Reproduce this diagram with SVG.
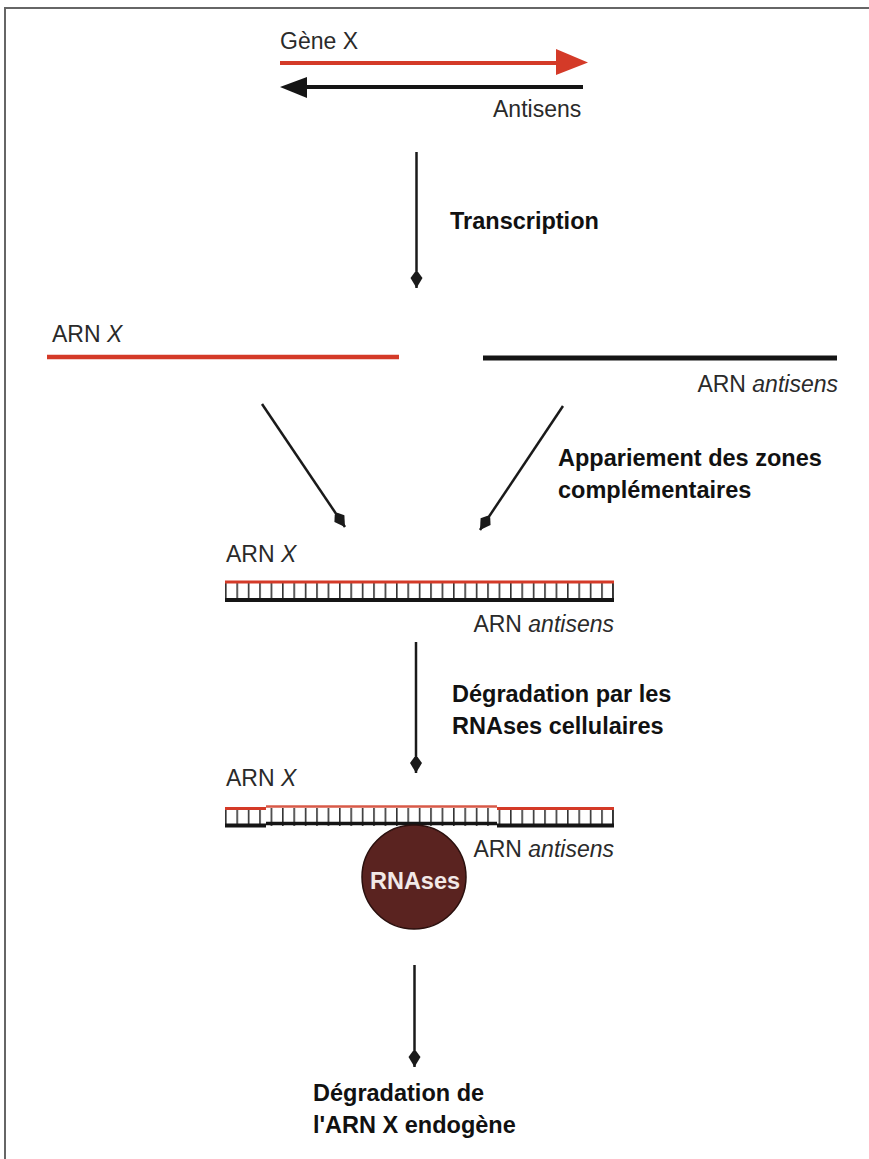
<svg xmlns="http://www.w3.org/2000/svg" width="869" height="1159" viewBox="0 0 869 1159">
<defs>
<style>
.t{font-family:"Liberation Sans",Arial,sans-serif;font-size:23px;fill:#2a2a2a}
.b{font-family:"Liberation Sans",Arial,sans-serif;font-size:23.5px;font-weight:bold;fill:#111}
.i{font-style:italic}
.arr{stroke:#1a1a1a;stroke-width:2.5;fill:none;marker-end:url(#spear)}
.red{stroke:#d43a28}
.blk{stroke:#151515}
.rung{stroke:#333;stroke-width:1.6}
</style>
<marker id="spear" markerUnits="userSpaceOnUse" markerWidth="20" markerHeight="14" refX="0" refY="0" viewBox="-18 -7 20 14" orient="auto" overflow="visible">
<path d="M0,0 L-10,-6 L-16,-1.6 L-16,1.6 L-10,6 Z" fill="#1a1a1a"/>
</marker>
<pattern id="rungs" x="225" y="0" width="11.4" height="20" patternUnits="userSpaceOnUse">
<line x1="0.8" y1="0" x2="0.8" y2="20" class="rung"/>
</pattern>
</defs>
<rect width="869" height="1159" fill="#fff"/>
<g id="frame">
<line x1="4" y1="8" x2="869" y2="8" stroke="#666" stroke-width="2"/>
<line x1="5" y1="7" x2="5" y2="1159" stroke="#666" stroke-width="2"/>
</g>

<g id="gene">
<text class="t" x="280" y="49">Gène X</text>
<line x1="280" y1="63" x2="560" y2="63" class="red" stroke-width="4"/>
<polygon points="556,49 588,62.5 556,75" fill="#d43a28"/>
<line x1="303" y1="87" x2="583" y2="87" class="blk" stroke-width="4"/>
<polygon points="280,87 307,77 307,98" fill="#151515"/>
<text class="t" x="493" y="117">Antisens</text>
</g>

<g id="arn-separate">
<text class="t" x="52" y="342">ARN <tspan class="i">X</tspan></text>
<line x1="47" y1="357" x2="399" y2="357" class="red" stroke-width="4.5"/>
<line x1="483" y1="358" x2="837" y2="358" class="blk" stroke-width="5"/>
<text class="t" x="838" y="392" text-anchor="end">ARN <tspan class="i">antisens</tspan></text>
</g>

<g id="duplex">
<text class="t" x="226" y="562">ARN <tspan class="i">X</tspan></text>
<rect x="225" y="582" width="389" height="18" fill="url(#rungs)"/>
<line x1="612.8" y1="582" x2="612.8" y2="600" class="rung"/>
<line x1="225" y1="582" x2="614" y2="582" class="red" stroke-width="3"/>
<line x1="225" y1="600" x2="614" y2="600" class="blk" stroke-width="4"/>
<text class="t" x="614" y="632" text-anchor="end">ARN <tspan class="i">antisens</tspan></text>
</g>

<g id="duplex-rnases">
<text class="t" x="226" y="786">ARN <tspan class="i">X</tspan></text>
<rect x="225" y="808" width="389" height="18" fill="url(#rungs)"/>
<line x1="612.8" y1="808" x2="612.8" y2="826" class="rung"/>
<line x1="225" y1="808.5" x2="266" y2="808.5" class="red" stroke-width="3"/>
<line x1="266" y1="806.5" x2="497" y2="806.5" stroke="#d85a48" stroke-width="2.5"/>
<line x1="497" y1="808.5" x2="614" y2="808.5" class="red" stroke-width="3"/>
<line x1="225" y1="825.5" x2="266" y2="825.5" class="blk" stroke-width="4"/>
<line x1="266" y1="823.5" x2="497" y2="823.5" class="blk" stroke-width="3.5"/>
<line x1="497" y1="825.5" x2="614" y2="825.5" class="blk" stroke-width="4"/>
<text class="t" x="614" y="857" text-anchor="end">ARN <tspan class="i">antisens</tspan></text>
</g>

<g id="rnases">
<circle cx="414" cy="877" r="52" fill="#5a2320" stroke="#2a0f0d" stroke-width="1.5"/>
<text class="b" x="415" y="889" text-anchor="middle" style="fill:#f2e9e7">RNAses</text>
</g>

<g id="connectors">
<line x1="416.5" y1="152" x2="416.5" y2="288" class="arr"/>
<line x1="262" y1="404" x2="345" y2="527" class="arr"/>
<line x1="563" y1="406" x2="480" y2="530" class="arr"/>
<line x1="416" y1="642" x2="416" y2="773" class="arr"/>
<line x1="414.5" y1="965" x2="414.5" y2="1067" class="arr"/>
</g>

<g id="labels">
<text class="b" x="450" y="229">Transcription</text>
<text class="b" x="558" y="466">Appariement des zones</text>
<text class="b" x="558" y="498">complémentaires</text>
<text class="b" x="452" y="702">Dégradation par les</text>
<text class="b" x="452" y="734">RNAses cellulaires</text>
<text class="b" x="313" y="1101">Dégradation de</text>
<text class="b" x="313" y="1133">l'ARN X endogène</text>
</g>
</svg>
